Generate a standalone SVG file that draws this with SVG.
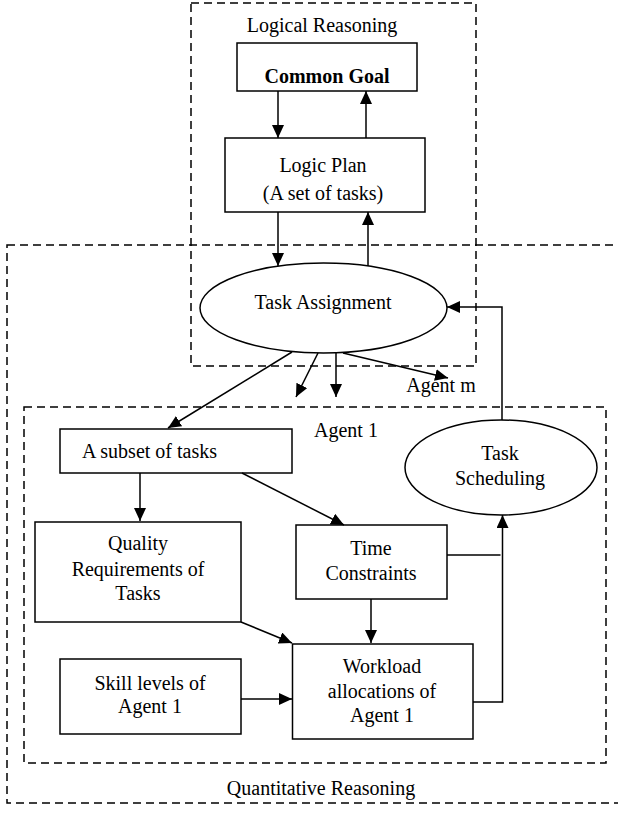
<svg xmlns="http://www.w3.org/2000/svg" width="618" height="814" viewBox="0 0 618 814">
<style>
text{font-family:"Liberation Serif","Times New Roman",serif;font-size:20px;fill:#000;text-anchor:middle}
.b{font-weight:bold}
.box{fill:#fff;stroke:#000;stroke-width:1.5}
.dash{fill:none;stroke:#000;stroke-width:1.5;stroke-dasharray:8 5}
.c{fill:none;stroke:#000;stroke-width:1.5}
</style>
<defs>
<marker id="ah" markerUnits="userSpaceOnUse" markerWidth="14" markerHeight="13" refX="13" refY="6" orient="auto" viewBox="0 0 14 13">
<path d="M0,0 L13,6 L0,12 z" fill="#000"/>
</marker>
</defs>
<g id="regions">
<rect class="dash" x="191" y="3" width="285" height="363"/>
<text x="322" y="32">Logical Reasoning</text>
<rect class="dash" x="7" y="245" width="620" height="558"/>
<text x="321" y="795">Quantitative Reasoning</text>
<rect class="dash" x="24" y="407" width="582" height="356"/>
<text x="346" y="437">Agent 1</text>
<text x="441" y="392">Agent m</text>
</g>
<g id="common-goal">
<rect class="box" x="237" y="43" width="180" height="48"/>
<text class="b" x="327" y="83">Common Goal</text>
</g>
<g id="logic-plan">
<rect class="box" x="225" y="138" width="200" height="74"/>
<text x="323" y="172">Logic Plan</text>
<text x="323" y="200">(A set of tasks)</text>
</g>
<g id="task-assignment">
<ellipse class="box" cx="323.5" cy="308" rx="123.5" ry="45"/>
<text x="323" y="309">Task Assignment</text>
</g>
<g id="subset">
<rect class="box" x="60" y="429" width="232" height="44"/>
<text x="82" y="458" style="text-anchor:start">A subset of tasks</text>
</g>
<g id="task-scheduling">
<ellipse class="box" cx="501" cy="467.5" rx="96" ry="47.5"/>
<text x="500" y="460">Task</text>
<text x="500" y="485">Scheduling</text>
</g>
<g id="quality">
<rect class="box" x="35" y="522" width="206" height="100"/>
<text x="138" y="550">Quality</text>
<text x="138" y="576">Requirements of</text>
<text x="138" y="600">Tasks</text>
</g>
<g id="time">
<rect class="box" x="296" y="525" width="151" height="74"/>
<text x="371" y="555">Time</text>
<text x="371" y="580">Constraints</text>
</g>
<g id="skill">
<rect class="box" x="60" y="659" width="181" height="75"/>
<text x="150" y="690">Skill levels of</text>
<text x="150" y="713">Agent 1</text>
</g>
<g id="workload">
<rect class="box" x="292.5" y="644" width="180.5" height="95"/>
<text x="382" y="673">Workload</text>
<text x="382" y="698">allocations of</text>
<text x="382" y="722">Agent 1</text>
</g>
<g id="connectors">
<line class="c" x1="278" y1="91" x2="278" y2="138" marker-end="url(#ah)"/>
<line class="c" x1="366" y1="138" x2="366" y2="91" marker-end="url(#ah)"/>
<line class="c" x1="278" y1="212" x2="278" y2="266" marker-end="url(#ah)"/>
<line class="c" x1="368" y1="266" x2="368" y2="212" marker-end="url(#ah)"/>
<polyline class="c" points="502,420 502,307 447,307" marker-end="url(#ah)"/>
<line class="c" x1="292" y1="352" x2="168" y2="428" marker-end="url(#ah)"/>
<line class="c" x1="318" y1="353" x2="296" y2="397" marker-end="url(#ah)"/>
<line class="c" x1="336" y1="353" x2="336" y2="397" marker-end="url(#ah)"/>
<line class="c" x1="343" y1="353" x2="448" y2="378" marker-end="url(#ah)"/>
<line class="c" x1="140" y1="473" x2="140" y2="521" marker-end="url(#ah)"/>
<line class="c" x1="242" y1="473" x2="344" y2="525" marker-end="url(#ah)"/>
<line class="c" x1="447" y1="555" x2="500.5" y2="555"/>
<line class="c" x1="371" y1="599" x2="371" y2="643" marker-end="url(#ah)"/>
<line class="c" x1="241" y1="622" x2="292" y2="643" marker-end="url(#ah)"/>
<line class="c" x1="241" y1="699" x2="292" y2="699" marker-end="url(#ah)"/>
<polyline class="c" points="473,702 502.5,702 502.5,515" marker-end="url(#ah)"/>
</g>
</svg>
